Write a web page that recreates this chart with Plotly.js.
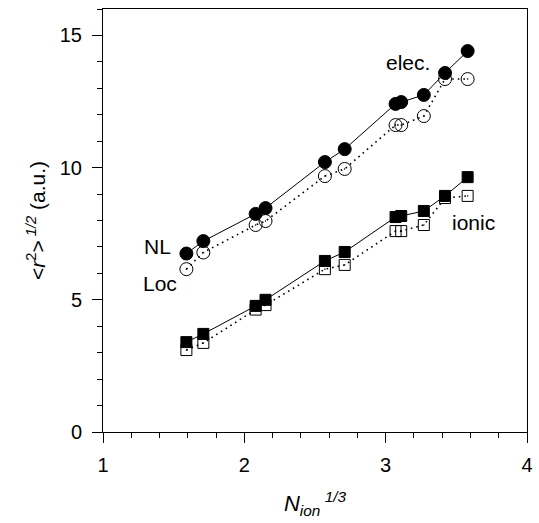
<!DOCTYPE html>
<html>
<head>
<meta charset="utf-8">
<script src="https://cdn.plot.ly/plotly-3.0.1.min.js"></script>
<style>html,body{margin:0;padding:0;background:#fff;}#chart{width:539px;height:523px;}</style>
</head>
<body>
<div id="chart"></div>
<script>
// N_ion^(1/3) values
const xValues = [1.59, 1.71, 2.08, 2.15, 2.57, 2.71, 3.07, 3.11, 3.27, 3.42, 3.58];
// electronic radius, non-local (filled circles)
const elecNL = [6.75, 7.22, 8.25, 8.47, 10.21, 10.70, 12.41, 12.48, 12.75, 13.58, 14.41];
// electronic radius, local (open circles)
const elecLoc = [6.16, 6.79, 7.83, 7.98, 9.68, 9.95, 11.61, 11.61, 11.95, 13.35, 13.35];
// ionic radius, non-local (filled squares)
const ionicNL = [3.40, 3.71, 4.77, 5.00, 6.47, 6.81, 8.13, 8.17, 8.36, 8.93, 9.64];
// ionic radius, local (open squares)
const ionicLoc = [3.10, 3.37, 4.63, 4.80, 6.16, 6.32, 7.60, 7.60, 7.83, 8.85, 8.93];

const xTicks = [1, 2, 3, 4];
const yTicks = [0, 5, 10, 15];

const FONT = 'Liberation Sans, Arial, sans-serif';

function series(y, symbol, dotted, size) {
  return {
    x: xValues, y: y, type: 'scatter', mode: 'lines+markers',
    line: {color: 'black', width: dotted ? 1.6 : 1, dash: dotted ? '1.6px,4px' : 'solid'},
    marker: {symbol: symbol, size: size, color: 'black', line: {color: 'black', width: 1}},
    showlegend: false, cliponaxis: false
  };
}

const traces = [
  series(elecLoc, 'circle-open-dot', true, 13),
  series(elecNL, 'circle', false, 13),
  series(ionicLoc, 'square-open-dot', true, 11),
  series(ionicNL, 'square', false, 11)
];

const axisCommon = {
  showline: true, mirror: true, linecolor: 'black', linewidth: 1,
  ticks: 'outside', ticklen: 10, tickwidth: 1, tickcolor: 'black',
  showgrid: false, zeroline: false,
  tickfont: {family: FONT, size: 20, color: 'black'}
};

const layout = {
  width: 539, height: 523,
  margin: {l: 103, r: 12, t: 9, b: 91},
  paper_bgcolor: 'white', plot_bgcolor: 'white',
  font: {family: FONT, color: 'black'},
  xaxis: Object.assign({}, axisCommon, {
    range: [1, 4], tickvals: xTicks, ticktext: xTicks.map(String),
    ticklabelstandoff: 5,
    minor: {dtick: 0.2, ticks: 'outside', ticklen: 5, tickcolor: 'black', tickwidth: 1, showgrid: false},
    title: {text: '<i>N</i><sub><i>ion</i></sub><sup><i> 1/3</i></sup>', font: {family: FONT, size: 22, color: 'black'}, standoff: 20}
  }),
  yaxis: Object.assign({}, axisCommon, {
    range: [0, 16], tickvals: yTicks, ticktext: yTicks.map(String),
    ticklabelstandoff: 6,
    minor: {dtick: 1, ticks: 'outside', ticklen: 5, tickcolor: 'black', tickwidth: 1, showgrid: false},
    title: {text: '&lt;<i>r</i><sup>2</sup>&gt;<sup> <i>1/2</i></sup> (a.u.)', font: {family: FONT, size: 21, color: 'black'}, standoff: 8}
  }),
  annotations: [
    {x: 3.16, y: 13.96, text: 'elec.', showarrow: false, font: {family: FONT, size: 21, color: 'black'}},
    {x: 1.383, y: 7.0, text: 'NL', showarrow: false, font: {family: FONT, size: 21, color: 'black'}},
    {x: 1.404, y: 5.62, text: 'Loc', showarrow: false, font: {family: FONT, size: 21, color: 'black'}},
    {x: 3.624, y: 7.92, text: 'ionic', showarrow: false, font: {family: FONT, size: 21, color: 'black'}}
  ]
};

Plotly.newPlot('chart', traces, layout, {displayModeBar: false, staticPlot: true});
</script>
</body>
</html>
